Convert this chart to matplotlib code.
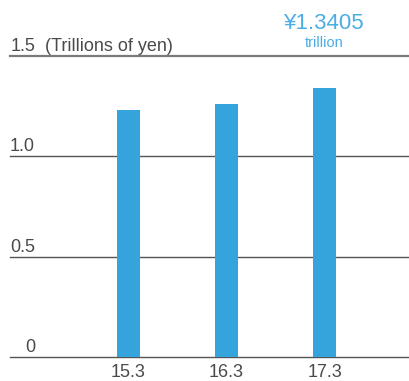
import matplotlib
matplotlib.use("Agg")
import matplotlib.pyplot as plt
import matplotlib.transforms as mtransforms

# data
periods = ["15.3", "16.3", "17.3"]
values = [1.231, 1.261, 1.3405]
grid_ticks = [0, 0.5, 1.0, 1.5]
tick_text = ["0", "0.5", "1.0", "1.5"]
unit_label = "(Trillions of yen)"
callout_value = "¥1.3405"
callout_unit = "trillion"

BAR_COLOR = "#35a4dc"
CALLOUT_COLOR = "#4aade3"
TEXT_COLOR = "#4a4a4a"
FONT = "Liberation Sans"

W, H = 409, 381
fig = plt.figure(figsize=(W / 100, H / 100), dpi=100)

# axes box in pixel terms: x 10..409, y (from top) 56..357
left, right, top, bottom = 10, 409, 56, 357
ax = fig.add_axes([left / W, (H - bottom) / H, (right - left) / W, (bottom - top) / H])

x = list(range(len(periods)))
ax.bar(x, values, width=0.235, color=BAR_COLOR, zorder=2)
ax.set_xlim(-1.209, 2.862)
ax.set_ylim(0, 1.5)
ax.axis("off")

# horizontal rules
for t in grid_ticks:
    if t == 1.5:
        ax.axhline(t, color="#7a7a7a", lw=1.6, clip_on=False, zorder=1)
    else:
        ax.axhline(t, color="#555555", lw=1.0, clip_on=False, zorder=1)

# y labels, right aligned near x=35px
trans = mtransforms.blended_transform_factory(ax.transAxes, ax.transData)
lab_x = 25 / (right - left)
for t, s in zip(grid_ticks, tick_text):
    ax.annotate(s, xy=(lab_x, t), xycoords=trans, xytext=(0, 5),
                textcoords="offset pixels", ha="right", va="baseline",
                fontsize=13, color=TEXT_COLOR, family=FONT)
ax.annotate(unit_label, xy=(35 / (right - left), 1.5), xycoords=trans,
            xytext=(0, 5), textcoords="offset pixels", ha="left", va="baseline",
            fontsize=13, color=TEXT_COLOR, family=FONT)

# category labels under the bars
for xi, s in zip(x, periods):
    ax.annotate(s, xy=(xi, 0), xycoords="data", xytext=(0, -20),
                textcoords="offset pixels", ha="center", va="baseline",
                fontsize=13, color=TEXT_COLOR, family=FONT)

# callout above the last bar
ax.annotate(callout_value, xy=(x[-1], 1.5), xycoords="data", xytext=(0, 27),
            textcoords="offset pixels", ha="center", va="baseline",
            fontsize=16, color=CALLOUT_COLOR, family=FONT)
ax.annotate(callout_unit, xy=(x[-1], 1.5), xycoords="data", xytext=(0, 9),
            textcoords="offset pixels", ha="center", va="baseline",
            fontsize=10.5, color=CALLOUT_COLOR, family=FONT)

fig.savefig("out.png", dpi=100)
